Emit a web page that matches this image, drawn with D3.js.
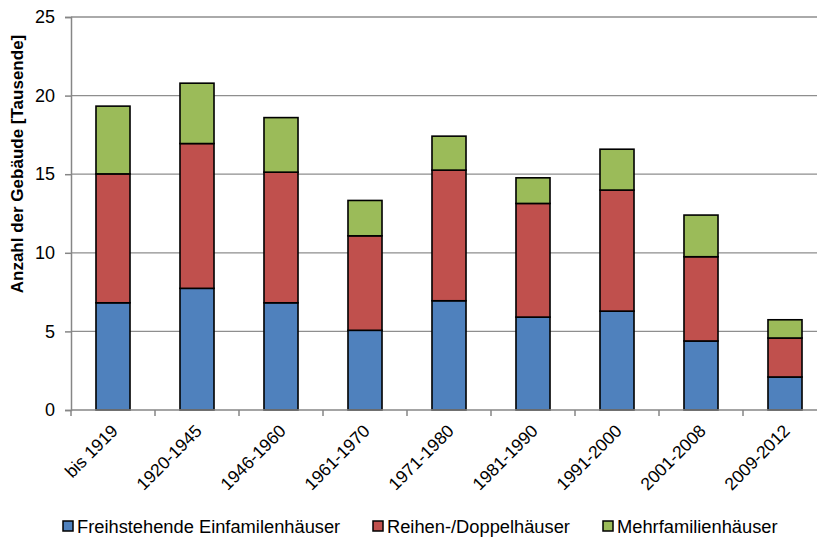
<!DOCTYPE html>
<html>
<head>
<meta charset="utf-8">
<script src="https://cdn.jsdelivr.net/npm/d3@7"></script>
<style>
  body { margin: 0; background: #fff; }
  svg { display: block; font-family: "Liberation Sans", Arial, sans-serif; }
</style>
</head>
<body>
<script>
// Baujahresklassen
const categories = ["bis 1919", "1920-1945", "1946-1960", "1961-1970", "1971-1980",
                    "1981-1990", "1991-2000", "2001-2008", "2009-2012"];
const seriesNames = ["Freihstehende Einfamilenhäuser", "Reihen-/Doppelhäuser", "Mehrfamilienhäuser"];
const einfamilien = [6.82, 7.74, 6.82, 5.07, 6.95, 5.91, 6.29, 4.39, 2.10];
const reihenDoppel = [8.20, 9.21, 8.31, 6.01, 8.31, 7.23, 7.70, 5.36, 2.48];
const mehrfamilien = [4.31, 3.84, 3.47, 2.25, 2.16, 1.63, 2.60, 2.65, 1.16];
const yTicks = [0, 5, 10, 15, 20, 25];
const colors = ["#4F81BD", "#C0504D", "#9BBB59"];

const width = 817, height = 537;
const svg = d3.select("body").append("svg")
	.attr("width", width)
	.attr("height", height);

const plotLeft = 71, plotTop = 17, plotBottom = 410;
const step = 84;

const x = d3.scaleBand()
	.domain(categories)
	.range([plotLeft, plotLeft + step * categories.length])
	.paddingInner(0.595)
	.paddingOuter(0.2975);

const y = d3.scaleLinear()
	.domain([0, 25])
	.range([plotBottom, plotTop]);

// table for stacking
const table = categories.map((c, i) => ({
	cat: c,
	s0: einfamilien[i],
	s1: reihenDoppel[i],
	s2: mehrfamilien[i]
}));
const stacked = d3.stack().keys(["s0", "s1", "s2"])(table);

// gridlines
svg.append("g")
	.selectAll("line")
	.data(yTicks.filter(d => d > 0))
	.join("line")
	.attr("x1", plotLeft)
	.attr("x2", width)
	.attr("y1", d => y(d))
	.attr("y2", d => y(d))
	.attr("stroke", "#8e8e8e")
	.attr("stroke-width", 1.3);

// bars
svg.append("g")
	.selectAll("g")
	.data(stacked)
	.join("g")
	.attr("fill", (d, i) => colors[i])
	.selectAll("rect")
	.data(d => d)
	.join("rect")
	.attr("x", d => x(d.data.cat))
	.attr("width", x.bandwidth())
	.attr("y", d => y(d[1]))
	.attr("height", d => y(d[0]) - y(d[1]))
	.attr("stroke", "#000")
	.attr("stroke-width", 1.6);

// y axis
const yAxis = svg.append("g")
	.attr("transform", `translate(${plotLeft},0)`)
	.call(d3.axisLeft(y).tickValues(yTicks).tickSize(6).tickPadding(10));
yAxis.select(".domain").attr("stroke", "#868686").attr("stroke-width", 1.5);
yAxis.selectAll(".tick line").attr("stroke", "#868686").attr("stroke-width", 1.5);
yAxis.selectAll(".tick text")
	.attr("fill", "#000")
	.style("font-size", "18px")
	.style("font-family", "Liberation Sans, Arial, sans-serif");

// x axis baseline and ticks between categories
const xAxisG = svg.append("g");
xAxisG.append("line")
	.attr("x1", plotLeft)
	.attr("x2", width)
	.attr("y1", plotBottom)
	.attr("y2", plotBottom)
	.attr("stroke", "#868686")
	.attr("stroke-width", 1.5);
xAxisG.selectAll("line.tk")
	.data(categories)
	.join("line")
	.attr("class", "tk")
	.attr("x1", d => x(d) - x.step() * x.paddingInner() / 2)
	.attr("x2", d => x(d) - x.step() * x.paddingInner() / 2)
	.attr("y1", plotBottom)
	.attr("y2", plotBottom + 6)
	.attr("stroke", "#868686")
	.attr("stroke-width", 1.5);

xAxisG.selectAll("text")
	.data(categories)
	.join("text")
	.attr("transform", d => `translate(${x(d) + x.bandwidth() / 2 + 6},${plotBottom + 22}) rotate(-45)`)
	.attr("text-anchor", "end")
	.style("font-size", "17.5px")
	.attr("fill", "#000")
	.text(d => d);

// y axis title
svg.append("text")
	.attr("transform", "translate(23,164) rotate(-90)")
	.attr("text-anchor", "middle")
	.style("font-size", "17px")
	.style("font-weight", "bold")
	.text("Anzahl der Gebäude [Tausende]");

// legend
const legendX = [63, 373, 603];
const legend = svg.append("g")
	.selectAll("g")
	.data(seriesNames)
	.join("g")
	.attr("transform", (d, i) => `translate(${legendX[i]},526)`);
legend.append("rect")
	.attr("x", 0)
	.attr("y", -5)
	.attr("width", 10)
	.attr("height", 10)
	.attr("fill", (d, i) => colors[i])
	.attr("stroke", "#000")
	.attr("stroke-width", 1.5);
legend.append("text")
	.attr("x", 14)
	.attr("y", 6.5)
	.style("font-size", "18.3px")
	.attr("fill", "#000")
	.text(d => d);
</script>
</body>
</html>
